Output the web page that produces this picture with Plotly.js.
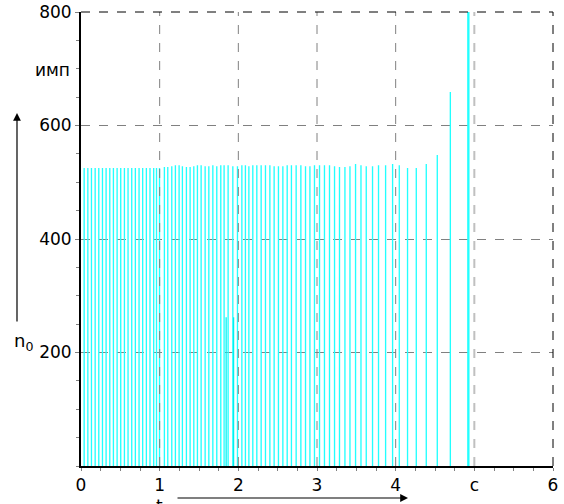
<!DOCTYPE html>
<html>
<head>
<meta charset="utf-8">
<script src="https://cdn.plot.ly/plotly-3.0.1.min.js"></script>
<style>html,body{margin:0;padding:0;background:#fff;}#chart{width:564px;height:504px;}</style>
</head>
<body>
<div id="chart"></div>
<script>
// Pulse times (x) and counts n0 (imp)
const times = [
  0.04, 0.087, 0.133, 0.18, 0.226, 0.273, 0.319, 0.366, 0.412, 0.459, 0.505,
  0.552, 0.598, 0.645, 0.691, 0.738, 0.784, 0.831, 0.877, 0.924, 0.96, 0.998,
  1.06, 1.103, 1.154, 1.2, 1.247, 1.289, 1.34, 1.387, 1.434, 1.48, 1.527,
  1.578, 1.625, 1.676, 1.726, 1.777, 1.819, 1.87, 1.93,
  1.989, 2.045, 2.09, 2.134, 2.184, 2.235, 2.29, 2.345, 2.401, 2.455, 2.51,
  2.566, 2.621, 2.675, 2.735, 2.795, 2.854, 2.91, 2.968,
  3.032, 3.095, 3.159, 3.223, 3.286, 3.355, 3.419, 3.49, 3.559, 3.626, 3.706,
  3.782, 3.872, 3.961,
  4.046, 4.151, 4.262, 4.389, 4.529, 4.695, 4.924
];
const counts = [
  525, 525, 525, 525, 525, 525, 525, 525, 525, 525, 525,
  525, 525, 525, 525, 525, 525, 525, 525, 525, 525, 525,
  527, 527, 528, 530, 530, 528, 527, 527, 528, 530, 530,
  528, 528, 530, 528, 530, 530, 530, 528,
  528, 530, 530, 528, 530, 530, 530, 530, 530, 528, 528,
  528, 530, 530, 530, 530, 528, 528, 530,
  530, 530, 530, 528, 527, 527, 528, 532, 530, 528, 528,
  530, 530, 532,
  530, 525, 525, 532, 548, 659, 800
];
// Two short pulses near t = 1.9
const dipTimes = [1.845, 1.94];
const dipCounts = [262, 262];

const xTickVals = [0, 1, 2, 3, 4, 5, 6];
const xTickText = ['0', '1', '2', '3', '4', 'c', '6'];
const yTickVals = [200, 400, 600, 800];
const yTickText = ['200', '400', '600', '800'];

const widths = times.map((t, i) => i === times.length - 1 ? 0.03 : 0.017);

const traces = [
  {type: 'bar', x: times, y: counts, width: widths,
   marker: {color: '#22ffff', line: {width: 0}}, hoverinfo: 'skip'},
  {type: 'bar', x: dipTimes, y: dipCounts, width: 0.016,
   marker: {color: '#00f0f0', line: {width: 0}}, hoverinfo: 'skip'}
];

const gridShapes = [1, 2, 3, 4].map(v => ({
  type: 'line', xref: 'x', yref: 'paper', x0: v, x1: v, y0: 0, y1: 1,
  line: {color: '#808080', width: 1, dash: 'dash'}, layer: 'above'
}));
gridShapes.push({type: 'line', xref: 'x', yref: 'paper', x0: 5, x1: 5, y0: 0, y1: 1,
  line: {color: '#c0c0c0', width: 2, dash: 'dash'}, layer: 'above'});
gridShapes.push({type: 'line', xref: 'paper', yref: 'paper', x0: 0, x1: 1, y0: 1, y1: 1,
  line: {color: '#000000', width: 1, dash: 'dash'}, layer: 'above'});
gridShapes.push({type: 'line', xref: 'paper', yref: 'paper', x0: 1, x1: 1, y0: 0, y1: 1,
  line: {color: '#000000', width: 1, dash: 'dash'}, layer: 'above'});

const tickFont = {family: 'DejaVu Sans, Verdana, sans-serif', size: 17, color: '#000'};

const layout = {
  width: 564, height: 504,
  margin: {l: 81, r: 11, t: 12, b: 38, pad: 0},
  paper_bgcolor: '#fff', plot_bgcolor: '#fff',
  showlegend: false, barmode: 'overlay',
  font: tickFont,
  xaxis: {
    range: [0, 6], tickvals: xTickVals, ticktext: xTickText,
    showgrid: false, zeroline: false,
    showline: true, linecolor: '#000', linewidth: 2,
    ticks: 'outside', ticklen: 3, tickcolor: '#808080',
    minor: {dtick: 0.25, ticks: 'outside', ticklen: 3, tickcolor: '#808080', showgrid: false},
    tickfont: tickFont, fixedrange: true
  },
  yaxis: {
    range: [0, 800.01], tickvals: yTickVals, ticktext: yTickText,
    showgrid: true, gridcolor: '#808080', griddash: 'dash', gridwidth: 1,
    zeroline: false,
    showline: true, linecolor: '#000', linewidth: 2,
    ticks: 'outside', ticklen: 4, tickcolor: '#808080',
    minor: {dtick: 50, ticks: 'outside', ticklen: 3, tickcolor: '#808080', showgrid: false},
    tickfont: tickFont, fixedrange: true
  },
  shapes: gridShapes,
  annotations: [
    {xref: 'paper', yref: 'paper', x: -0.0614, y: 0.872, text: 'имп', showarrow: false,
     font: tickFont, xanchor: 'center', yanchor: 'middle'},
    {xref: 'paper', yref: 'paper', x: -0.121, y: 0.273, text: 'n<sub>0</sub>', showarrow: false,
     font: {family: 'DejaVu Sans, Verdana, sans-serif', size: 18, color: '#000'},
     xanchor: 'center', yanchor: 'middle'},
    {xref: 'paper', yref: 'paper', x: 0.167, y: -0.089, text: 't', showarrow: false,
     font: tickFont, xanchor: 'center', yanchor: 'middle'},
    {xref: 'paper', yref: 'paper', x: -0.1356, y: 0.7775, text: '', showarrow: true,
     ax: 0, ay: 210, arrowhead: 2, arrowsize: 1.3, arrowwidth: 1.2, arrowcolor: '#000'},
    {xref: 'paper', yref: 'paper', x: 0.6928, y: -0.0705, text: '', showarrow: true,
     ax: -232, ay: 0, arrowhead: 2, arrowsize: 1.3, arrowwidth: 1.2, arrowcolor: '#000'}
  ]
};

Plotly.newPlot('chart', traces, layout, {staticPlot: true, displayModeBar: false});
</script>
</body>
</html>
